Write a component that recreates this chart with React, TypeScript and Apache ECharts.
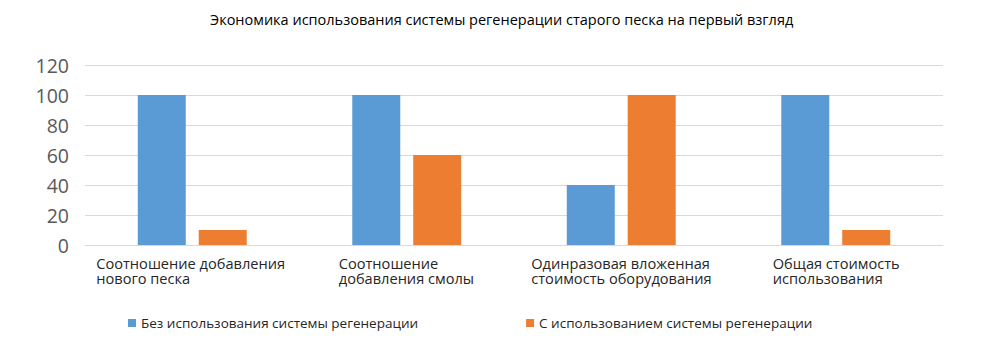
import React, { useEffect, useRef } from "react";
import * as echarts from "echarts";

const title = "Экономика использования системы регенерации старого песка на первый взгляд";
const categories = [
  "Соотношение добавления\nнового песка",
  "Соотношение\nдобавления смолы",
  "Одинразовая вложенная\nстоимость оборудования",
  "Общая стоимость\nиспользования",
];
const seriesNames = ["Без использования системы регенерации", "С использованием системы регенерации"];
const withoutRegen = [100, 100, 40, 100];
const withRegen = [10, 60, 100, 10];
const yTicks = { min: 0, max: 120, interval: 20 };

const blockWidths = [192, 136, 180, 126];
const FONT = "'Open Sans', 'Noto Sans', sans-serif";

export default function App() {
  const ref = useRef<HTMLDivElement>(null);
  useEffect(() => {
    document.body.style.margin = "0";
    if (!ref.current) return;
    const chart = echarts.init(ref.current, null, { renderer: "svg" });
    const rich: Record<string, any> = {};
    blockWidths.forEach((w, i) => {
      rich["c" + i] = { width: w, align: "left", fontSize: 14.6, lineHeight: 15.5, color: "#262626", fontFamily: FONT };
    });
    chart.setOption({
      animation: false,
      textStyle: { fontFamily: FONT },
      title: {
        text: title,
        left: 210,
        top: 12,
        padding: 0,
        textStyle: { fontSize: 14.5, fontWeight: "normal", color: "#000", fontFamily: FONT },
      },
      grid: { left: 85, right: 38, top: 65, bottom: 114 },
      legend: {
        top: 316,
        left: 128,
        padding: 0,
        itemWidth: 8,
        itemHeight: 8,
        itemGap: 108,
        icon: "rect",
        textStyle: { fontSize: 13.5, color: "#262626", fontFamily: FONT },
        data: seriesNames,
      },
      xAxis: {
        type: "category",
        data: categories,
        axisLine: { lineStyle: { color: "#d9d9d9", width: 1 } },
        axisTick: { show: false },
        axisLabel: {
          interval: 0,
          margin: 10,
          formatter: (v: string, idx: number) =>
            v.split("\n").map((l) => `{c${idx}|${l}}`).join("\n"),
          rich,
        },
      },
      yAxis: {
        type: "value",
        min: yTicks.min,
        max: yTicks.max,
        interval: yTicks.interval,
        axisLine: { show: false },
        axisTick: { show: false },
        splitLine: { lineStyle: { color: "#d9d9d9", width: 1 } },
        axisLabel: { fontSize: 19.5, color: "#595959", margin: 16, fontFamily: FONT },
      },
      series: [
        {
          name: seriesNames[0],
          type: "bar",
          data: withoutRegen,
          barWidth: 48,
          barGap: "27%",
          itemStyle: { color: "#5B9BD5" },
        },
        {
          name: seriesNames[1],
          type: "bar",
          data: withRegen,
          barWidth: 48,
          barGap: "27%",
          itemStyle: { color: "#ED7D31" },
        },
      ],
    });
    return () => chart.dispose();
  }, []);
  return <div ref={ref} style={{ width: 981, height: 359 }} />;
}
